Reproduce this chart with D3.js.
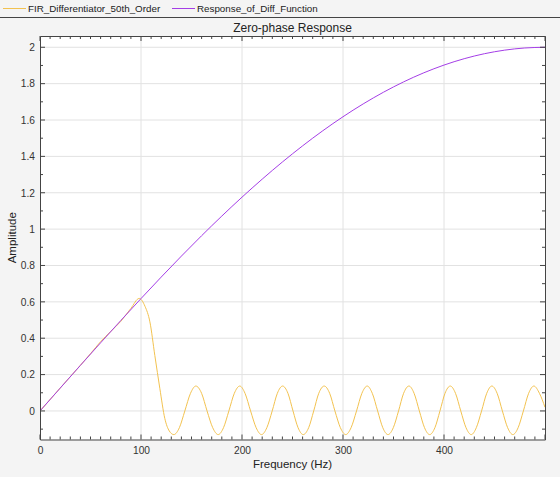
<!DOCTYPE html>
<html>
<head>
<meta charset="utf-8">
<script src="https://cdn.jsdelivr.net/npm/d3@7"></script>
<style>
  body { margin: 0; background: #f4f4f4; }
  svg { display: block; font-family: "Liberation Sans", Arial, sans-serif; }
</style>
</head>
<body>
<svg id="chart" width="560" height="477"></svg>
<script>
'use strict'

const seriesNames = ['FIR_Differentiator_50th_Order', 'Response_of_Diff_Function']
const seriesColors = ['#f2c250', '#a43ee6']

// FIR differentiator zero-phase response, [Hz, amplitude]
const firFreq = [0, 20, 40, 50, 60, 70, 80, 90, 98.2, 104, 108.8, 113.7, 118.7, 123.6, 128,
  132.5, 138, 143.4, 149, 154.3, 160, 165.4, 171, 176.4, 181.7, 187, 192.4, 197.8, 203, 208.5, 214,
  219.3, 224.6, 229.9, 235, 240.2, 245.5, 250.5, 255.5, 260.6, 266, 271, 276, 281.4, 286.8, 292, 297.4,
  302.7, 308, 313.4, 318.7, 324, 329, 334.3, 339.4, 344.6, 349.8, 355, 360, 365.3, 370.4, 375.6, 380.7,
  385.8, 391, 396, 401, 406.2, 411.4, 416.6, 421.8, 427, 432, 437.2, 442.3, 447.4, 452.6, 457.8, 463,
  468.2, 473.4, 478.6, 483.8, 489, 494.5, 500]
const firAmp = [0, 0.126, 0.251, 0.315, 0.381, 0.437, 0.493, 0.564, 0.619, 0.575, 0.49, 0.305, 0.122, -0.042, -0.11,
  -0.13, -0.092, 0, 0.097, 0.137, 0.097, 0, -0.092, -0.13, -0.092, 0, 0.097, 0.137, 0.097, 0, -0.092,
  -0.13, -0.092, 0, 0.097, 0.137, 0.097, 0, -0.092, -0.13, -0.092, 0, 0.097, 0.137, 0.097, 0, -0.092,
  -0.13, -0.092, 0, 0.097, 0.137, 0.097, 0, -0.092, -0.13, -0.092, 0, 0.097, 0.137, 0.097, 0, -0.092,
  -0.13, -0.092, 0, 0.097, 0.137, 0.097, 0, -0.092, -0.13, -0.092, 0, 0.097, 0.137, 0.097, 0, -0.092,
  -0.13, -0.092, 0, 0.097, 0.137, 0.097, 0.02]

// ideal differentiator response
const diffFreq = [0, 20, 40, 60, 80, 100, 120, 140, 160, 180, 200, 220, 240, 260, 280, 300, 320, 340,
  360, 380, 400, 420, 440, 460, 480, 500]
const diffAmp = [0, 0.1256, 0.2507, 0.3748, 0.4974, 0.618, 0.7362, 0.8516, 0.9636, 1.0717, 1.1756,
  1.2748, 1.3691, 1.4579, 1.541, 1.618, 1.6886, 1.7526, 1.8097, 1.8596, 1.9021, 1.9372, 1.9646,
  1.9842, 1.9961, 2]

const xTicks = [0, 100, 200, 300, 400]
const yTicks = [0, 0.2, 0.4, 0.6, 0.8, 1, 1.2, 1.4, 1.6, 1.8, 2]

const margin = { left: 40, right: 15, top: 36, bottom: 37 }
const width = 560
const height = 477

const svg = d3.select('#chart')

// legend strip
svg.append('rect').attr('width', width).attr('height', 17).attr('fill', '#f4f4f4')
svg.append('line').attr('x1', 0).attr('x2', width).attr('y1', 17.5).attr('y2', 17.5)
  .attr('stroke', '#444').attr('stroke-width', 1)

const legendX = [3, 172]
seriesNames.forEach((name, i) => {
  const g = svg.append('g').attr('transform', `translate(${legendX[i]},8.5)`)
  g.append('line').attr('x1', 0).attr('x2', 23).attr('stroke', seriesColors[i]).attr('stroke-width', 1)
  g.append('text').attr('x', 25).attr('y', 3.5).attr('font-size', 9.8).attr('fill', '#222').text(name)
})

const x = d3.scaleLinear().domain([0, 500]).range([margin.left, width - margin.right])
const y = d3.scaleLinear().domain([-0.157, 2.062]).range([height - margin.bottom - 0.5, margin.top])

const x0 = margin.left, x1 = width - margin.right
const y0 = height - margin.bottom - 0.5, y1 = margin.top

svg.append('rect').attr('x', x0).attr('y', y1).attr('width', x1 - x0).attr('height', y0 - y1)
  .attr('fill', '#fff')

// grid
svg.append('g').selectAll('line').data(xTicks.slice(1)).join('line')
  .attr('x1', d => x(d)).attr('x2', d => x(d)).attr('y1', y0).attr('y2', y1)
  .attr('stroke', '#e2e2e2')
svg.append('g').selectAll('line').data(yTicks).join('line')
  .attr('x1', x0).attr('x2', x1).attr('y1', d => y(d)).attr('y2', d => y(d))
  .attr('stroke', '#e2e2e2')

// lines
const line = d3.line().x(d => x(d[0])).y(d => y(d[1])).curve(d3.curveMonotoneX)
svg.append('clipPath').attr('id', 'clip').append('rect')
  .attr('x', x0).attr('y', y1).attr('width', x1 - x0).attr('height', y0 - y1)

svg.append('path').datum(d3.zip(firFreq, firAmp))
  .attr('clip-path', 'url(#clip)')
  .attr('d', line).attr('fill', 'none').attr('stroke', seriesColors[0]).attr('stroke-width', 1)
svg.append('path').datum(d3.zip(diffFreq, diffAmp))
  .attr('clip-path', 'url(#clip)')
  .attr('d', line).attr('fill', 'none').attr('stroke', seriesColors[1]).attr('stroke-width', 1)

// axes, ticks inward on all four sides
const minorX = d3.range(0, 501, 10)
const minorY = d3.range(-0.1, 2.05, 0.1)
const axisColor = '#444'

function tickFmt(d) { return d3.format('~g')(+d.toFixed(2)) }

const axBottom = svg.append('g').attr('transform', `translate(0,${y0})`)
  .call(d3.axisBottom(x).tickValues(xTicks).tickSize(0).tickPadding(7).tickFormat(tickFmt))
const axTop = svg.append('g').attr('transform', `translate(0,${y1})`)
  .call(d3.axisTop(x).tickValues([]).tickSize(0))
const axLeft = svg.append('g').attr('transform', `translate(${x0},0)`)
  .call(d3.axisLeft(y).tickValues(yTicks).tickSize(0).tickPadding(5).tickFormat(tickFmt))
const axRight = svg.append('g').attr('transform', `translate(${x1},0)`)
  .call(d3.axisRight(y).tickValues([]).tickSize(0))

;[axBottom, axTop, axLeft, axRight].forEach(g => {
  g.select('.domain').attr('stroke', axisColor)
  g.selectAll('text').attr('font-size', 10.2).attr('fill', '#333').attr('font-family', '"Liberation Sans", Arial, sans-serif')
})

const ticks = svg.append('g').attr('stroke', axisColor)
ticks.selectAll('.tb').data(minorX).join('line').attr('class', 'tb')
  .attr('x1', d => x(d)).attr('x2', d => x(d)).attr('y1', y0).attr('y2', d => y0 - (d % 100 === 0 ? 5 : 3))
ticks.selectAll('.tt').data(minorX).join('line').attr('class', 'tt')
  .attr('x1', d => x(d)).attr('x2', d => x(d)).attr('y1', y1).attr('y2', d => y1 + (d % 100 === 0 ? 5 : 3))
ticks.selectAll('.tl').data(minorY).join('line').attr('class', 'tl')
  .attr('y1', d => y(d)).attr('y2', d => y(d)).attr('x1', x0)
  .attr('x2', (d, i) => x0 + (i % 2 === 1 ? 5 : 3))
ticks.selectAll('.tr').data(minorY).join('line').attr('class', 'tr')
  .attr('y1', d => y(d)).attr('y2', d => y(d)).attr('x1', x1)
  .attr('x2', (d, i) => x1 - (i % 2 === 1 ? 5 : 3))

// labels
svg.append('text').attr('x', (x0 + x1) / 2).attr('y', 32).attr('text-anchor', 'middle')
  .attr('font-size', 12).attr('fill', '#222').text('Zero-phase Response')
svg.append('text').attr('x', (x0 + x1) / 2).attr('y', 468).attr('text-anchor', 'middle')
  .attr('font-size', 11.5).attr('fill', '#222').text('Frequency (Hz)')
svg.append('text').attr('transform', `translate(16,${(y0 + y1) / 2}) rotate(-90)`)
  .attr('text-anchor', 'middle').attr('font-size', 11.5).attr('fill', '#222').text('Amplitude')
</script>
</body>
</html>
